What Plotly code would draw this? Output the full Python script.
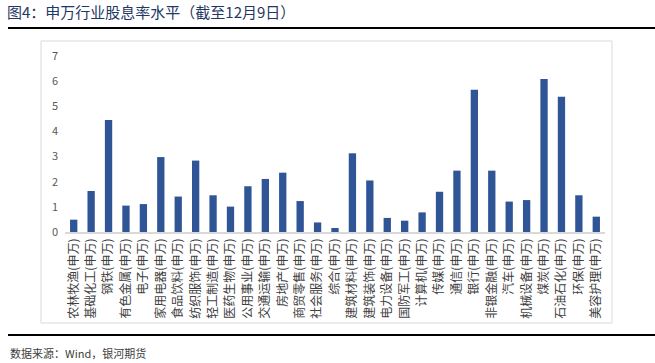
import plotly.graph_objects as go

categories = ["农林牧渔(申万)", "基础化工(申万)", "钢铁(申万)", "有色金属(申万)", "电子(申万)",
              "家用电器(申万)", "食品饮料(申万)", "纺织服饰(申万)", "轻工制造(申万)", "医药生物(申万)",
              "公用事业(申万)", "交通运输(申万)", "房地产(申万)", "商贸零售(申万)", "社会服务(申万)",
              "综合(申万)", "建筑材料(申万)", "建筑装饰(申万)", "电力设备(申万)", "国防军工(申万)",
              "计算机(申万)", "传媒(申万)", "通信(申万)", "银行(申万)", "非银金融(申万)",
              "汽车(申万)", "机械设备(申万)", "煤炭(申万)", "石油石化(申万)", "环保(申万)",
              "美容护理(申万)"]
values = [0.49, 1.63, 4.45, 1.05, 1.11, 2.98, 1.41, 2.84, 1.46, 1.01,
          1.82, 2.11, 2.36, 1.23, 0.38, 0.16, 3.13, 2.05, 0.56, 0.45,
          0.78, 1.60, 2.44, 5.66, 2.44, 1.21, 1.27, 6.09, 5.38, 1.46,
          0.61]
y_ticks = [0, 1, 2, 3, 4, 5, 6, 7]

FONT = "Noto Sans CJK SC"
W, H = 655, 363
L, R, T, B = 65, 50, 56, 131
pw, ph = W - L - R, H - T - B

def px(x):
    return (x - L) / pw

def py(y):
    return (H - B - y) / ph

fig = go.Figure(go.Bar(x=categories, y=values, marker=dict(color="#2F5597", line=dict(width=0)),
                       width=0.42))

fig.update_layout(
    width=W, height=H,
    margin=dict(l=L, r=R, t=T, b=B, pad=0),
    paper_bgcolor="white", plot_bgcolor="white",
    showlegend=False,
    font=dict(family=FONT, color="#404040"),
    xaxis=dict(tickangle=-90, tickfont=dict(size=12, color="#404040", family=FONT),
               showgrid=False, showline=True, linecolor="#D9D9D9", linewidth=1.5,
               ticks="", zeroline=False),
    yaxis=dict(range=[0, 7], tickvals=y_ticks, showgrid=False, zeroline=False,
               showline=False, ticks="", tickfont=dict(size=11, color="#595959", family=FONT),
               ticklabelstandoff=6),
    shapes=[
        dict(type="rect", xref="paper", yref="paper", x0=px(41), x1=px(612), y0=py(323), y1=py(41),
             line=dict(color="#D9D9D9", width=1), fillcolor="rgba(0,0,0,0)", layer="below"),
        dict(type="line", xref="paper", yref="paper", x0=px(8), x1=px(655), y0=py(28), y1=py(28),
             line=dict(color="black", width=2)),
        dict(type="line", xref="paper", yref="paper", x0=px(8), x1=px(655), y0=py(335), y1=py(335),
             line=dict(color="black", width=2)),
    ],
    annotations=[
        dict(text="图4：申万行业股息率水平（截至12月9日）", xref="paper", yref="paper",
             x=px(5), y=py(11), xanchor="left", yanchor="middle", showarrow=False,
             font=dict(size=15, color="#1F3864", family=FONT)),
        dict(text="数据来源：Wind，银河期货", xref="paper", yref="paper",
             x=px(8), y=py(353), xanchor="left", yanchor="middle", showarrow=False,
             font=dict(size=11, color="#404040", family=FONT)),
    ],
)

fig.write_html("out.html")
